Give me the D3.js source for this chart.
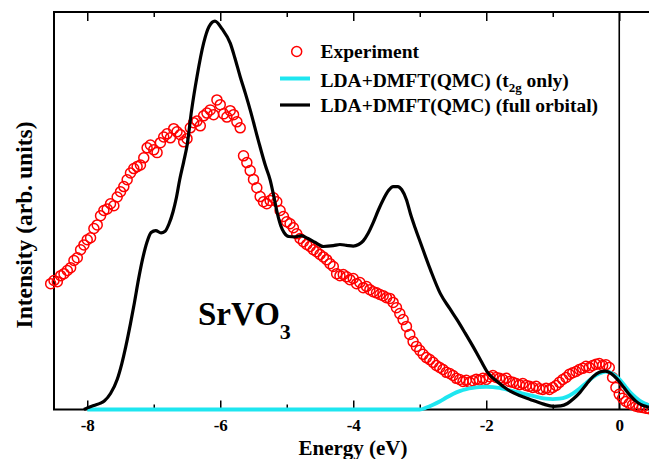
<!DOCTYPE html>
<html><head><meta charset="utf-8">
<script src="https://cdn.jsdelivr.net/npm/d3@7/dist/d3.min.js"></script>
<style>body{margin:0;background:#fff}svg{display:block}
text{font-family:"Liberation Serif","Tinos","Times New Roman","Times","Nimbus Roman","Nimbus Roman No9 L","DejaVu Serif","Noto Serif",serif}</style>
</head><body><svg id="c" width="649" height="459"></svg>
<script>
// ---- data ----
const majorTicks = [-8, -6, -4, -2, 0];
const minorTicks = [-7, -5, -3, -1];
const tickLabels = ["-8", "-6", "-4", "-2", "0"];
const legendLabels = ["Experiment", "LDA+DMFT(QMC) (t", "LDA+DMFT(QMC) (full orbital)"];

const fullOrbital = [[-8.05,0],[-8.0,0.4],[-7.9,1.0],[-7.8,1.6],[-7.74,2.2],[-7.65,4.0],[-7.55,7.5],[-7.48,11.5],[-7.42,15.8],[-7.35,21.5],[-7.29,26.8],[-7.23,32.5],[-7.17,37.5],[-7.10,42.0],[-7.04,44.3],[-6.97,44.8],[-6.89,44.2],[-6.83,44.6],[-6.77,46.5],[-6.71,49.5],[-6.66,53],[-6.61,57.5],[-6.55,62],[-6.50,66],[-6.43,75],[-6.35,83.3],[-6.25,91.7],[-6.17,95.8],[-6.08,97.2],[-5.97,95.2],[-5.85,91.7],[-5.78,88],[-5.70,83.3],[-5.62,79],[-5.55,75],[-5.43,67.5],[-5.32,61],[-5.25,57.5],[-5.19,53],[-5.14,49],[-5.09,46],[-5.04,44.3],[-4.97,43.3],[-4.88,43.2],[-4.78,43.5],[-4.68,42.8],[-4.57,41.8],[-4.45,40.8],[-4.30,41.0],[-4.20,41.3],[-4.10,41.1],[-4.00,40.9],[-3.92,41.3],[-3.85,42.2],[-3.78,44],[-3.70,46.8],[-3.62,50],[-3.55,52.5],[-3.47,54.8],[-3.40,55.8],[-3.33,55.8],[-3.27,55],[-3.20,52.5],[-3.14,49],[-3.07,45.5],[-2.99,41.8],[-2.84,35],[-2.69,29],[-2.55,25.3],[-2.44,22.5],[-2.32,19.2],[-2.20,15.8],[-2.08,12.2],[-1.98,9.3],[-1.85,7.2],[-1.68,5],[-1.50,3.5],[-1.34,2.5],[-1.15,1.4],[-0.99,0.8],[-0.88,0.9],[-0.78,1.5],[-0.68,2.8],[-0.59,4.3],[-0.49,6.4],[-0.39,8.3],[-0.30,9.3],[-0.21,9.6],[-0.12,9.0],[-0.03,7.6],[0.07,5.5],[0.17,3.4],[0.25,2.1],[0.32,1.3],[0.42,0.7],[0.5,0.4]];

const t2gOnly = [[-8.0,0],[-3.5,0],[-3.0,0],[-2.9,0.5],[-2.8,1.2],[-2.7,2.0],[-2.6,3.0],[-2.5,3.9],[-2.4,4.6],[-2.3,5.1],[-2.2,5.4],[-2.1,5.6],[-2.0,5.7],[-1.9,5.6],[-1.8,5.4],[-1.7,5.0],[-1.6,4.6],[-1.5,4.2],[-1.4,3.8],[-1.3,3.4],[-1.2,3.0],[-1.1,2.7],[-1.0,2.6],[-0.9,2.7],[-0.8,3.1],[-0.7,4.0],[-0.6,5.2],[-0.5,6.6],[-0.4,8.0],[-0.3,9.0],[-0.2,9.5],[-0.1,9.0],[0.0,7.6],[0.1,5.6],[0.2,3.7],[0.3,2.3],[0.4,1.4],[0.5,0.8]];

const experiment = [[-8.55,31.5],[-8.50,32.3],[-8.45,32.0],[-8.40,33.5],[-8.35,34.0],[-8.30,34.8],[-8.25,35.5],[-8.20,37.3],[-8.15,38.0],[-8.10,40.0],[-8.05,41.2],[-8.00,42.5],[-7.95,43.0],[-7.90,45.3],[-7.85,46.2],[-7.80,48.5],[-7.75,49.8],[-7.70,50.2],[-7.65,51.5],[-7.60,51.0],[-7.55,53.2],[-7.50,54.5],[-7.45,55.8],[-7.40,57.5],[-7.35,59.2],[-7.30,60.3],[-7.25,60.8],[-7.20,61.2],[-7.15,63.0],[-7.10,65.5],[-7.05,66.2],[-7.00,65.0],[-6.95,64.3],[-6.90,66.8],[-6.85,68.2],[-6.80,69.0],[-6.75,68.0],[-6.70,70.3],[-6.65,69.5],[-6.60,68.8],[-6.55,67.0],[-6.50,67.8],[-6.45,70.5],[-6.40,71.8],[-6.35,72.2],[-6.30,71.0],[-6.25,73.5],[-6.20,74.2],[-6.15,75.0],[-6.10,73.8],[-6.05,77.5],[-6.00,76.3],[-5.95,74.0],[-5.90,73.2],[-5.85,74.8],[-5.80,73.8],[-5.75,72.0],[-5.70,70.5],[-5.65,63.5],[-5.60,61.8],[-5.55,59.8],[-5.50,57.6],[-5.45,55.5],[-5.40,53.3],[-5.35,52.0],[-5.30,51.5],[-5.25,52.3],[-5.20,53.0],[-5.15,52.0],[-5.10,49.8],[-5.05,48.3],[-5.00,47.0],[-4.95,46.5],[-4.90,45.5],[-4.85,44.0],[-4.80,42.8],[-4.75,42.0],[-4.70,41.3],[-4.65,40.8],[-4.60,40.0],[-4.55,39.5],[-4.50,38.8],[-4.45,38.2],[-4.40,37.5],[-4.35,36.5],[-4.30,35.8],[-4.25,34.0],[-4.20,33.5],[-4.15,33.8],[-4.10,33.2],[-4.05,32.5],[-4.00,32.8],[-3.95,31.5],[-3.90,31.8],[-3.85,30.5],[-3.80,30.8],[-3.75,30.0],[-3.70,29.5],[-3.65,29.2],[-3.60,28.8],[-3.55,28.5],[-3.50,28.0],[-3.45,27.8],[-3.40,26.8],[-3.35,25.5],[-3.30,24.0],[-3.25,22.5],[-3.20,20.8],[-3.15,18.8],[-3.10,17.0],[-3.05,15.8],[-3.00,14.8],[-2.95,13.8],[-2.90,13.0],[-2.85,12.5],[-2.80,11.8],[-2.75,11.0],[-2.70,10.5],[-2.65,10.0],[-2.60,9.3],[-2.55,9.0],[-2.50,8.5],[-2.45,7.8],[-2.40,7.5],[-2.35,7.0],[-2.30,7.3],[-2.25,6.8],[-2.20,7.2],[-2.15,7.6],[-2.10,7.4],[-2.05,7.8],[-2.00,7.5],[-1.95,8.2],[-1.90,8.5],[-1.85,8.0],[-1.80,7.8],[-1.75,7.5],[-1.70,7.8],[-1.65,7.0],[-1.60,6.8],[-1.55,6.5],[-1.50,6.2],[-1.45,6.5],[-1.40,6.0],[-1.35,5.8],[-1.30,5.5],[-1.25,5.8],[-1.20,5.2],[-1.15,5.0],[-1.10,5.3],[-1.05,5.0],[-1.00,5.5],[-0.95,6.0],[-0.90,6.8],[-0.85,7.5],[-0.80,8.0],[-0.75,8.8],[-0.70,9.2],[-0.65,9.5],[-0.60,10.0],[-0.55,10.3],[-0.50,10.8],[-0.45,10.5],[-0.40,11.0],[-0.35,11.3],[-0.30,11.5],[-0.25,11.0],[-0.20,11.2],[-0.15,10.5],[-0.10,8.0],[-0.05,5.5],[0.00,3.8],[0.05,2.8],[0.10,2.0],[0.15,1.5],[0.20,1.2],[0.25,0.8],[0.30,0.6],[0.35,0.5],[0.40,0.3],[0.45,0.2]];

// ---- layout ----
const FONT = '"Liberation Serif","Tinos","Times New Roman","Times","Nimbus Roman","DejaVu Serif",serif';
const svg = d3.select("#c");
const L = 54, T = 12, B = 409.5;
const x = d3.scaleLinear().domain([-8.5, 0.5]).range([L, L + 598.5]);
const y = d3.scaleLinear().domain([0, 99.5]).range([B, T]);

// frame
svg.append("rect").attr("x", L).attr("y", T).attr("width", x(0.5) - L).attr("height", B - T)
  .attr("fill", "none").attr("stroke", "#000").attr("stroke-width", 2);

// ticks bottom and top (inward)
const bAx = d3.axisBottom(x).tickValues(majorTicks).tickSize(-9).tickFormat((d,i)=>tickLabels[i]).tickPadding(9);
const gb = svg.append("g").attr("transform", `translate(0,${B})`).call(bAx)
  .attr("font-family", FONT).attr("font-size", 17).attr("font-weight", "bold");
gb.select(".domain").remove();
gb.selectAll("line").attr("stroke-width", 1.5);
gb.selectAll("text").attr("fill", "#000");
const bMin = d3.axisBottom(x).tickValues(minorTicks).tickSize(-5).tickFormat("");
const gbm = svg.append("g").attr("transform", `translate(0,${B})`).call(bMin);
gbm.select(".domain").remove(); gbm.selectAll("line").attr("stroke-width", 1.5);
const tAx = d3.axisTop(x).tickValues(majorTicks).tickSize(-9).tickFormat("");
const gt = svg.append("g").attr("transform", `translate(0,${T})`).call(tAx);
gt.select(".domain").remove(); gt.selectAll("line").attr("stroke-width", 1.5);
const tMin = d3.axisTop(x).tickValues(minorTicks).tickSize(-5).tickFormat("");
const gtm = svg.append("g").attr("transform", `translate(0,${T})`).call(tMin);
gtm.select(".domain").remove(); gtm.selectAll("line").attr("stroke-width", 1.5);

// zero line
svg.append("line").attr("x1", x(0)).attr("x2", x(0)).attr("y1", T).attr("y2", B)
  .attr("stroke", "#000").attr("stroke-width", 1.6);

// experiment circles
svg.append("g").selectAll("circle").data(experiment).join("circle")
  .attr("cx", d => x(d[0])).attr("cy", d => y(d[1])).attr("r", 5)
  .attr("fill", "none").attr("stroke", "#ff0000").attr("stroke-width", 1.5);

const line = d3.line().x(d => x(d[0])).y(d => y(d[1])).curve(d3.curveMonotoneX);
svg.append("path").attr("d", line(t2gOnly)).attr("fill", "none").attr("stroke", "#1ee6f0").attr("stroke-width", 3.8);
svg.append("path").attr("d", line(fullOrbital)).attr("fill", "none").attr("stroke", "#000").attr("stroke-width", 3.2);

// axis labels
svg.append("text").attr("x", 353).attr("y", 455).attr("text-anchor", "middle").attr("font-family", FONT)
  .attr("font-size", 21).attr("font-weight", "bold").text("Energy (eV)");
svg.append("text").attr("transform", "translate(32,225) rotate(-90)").attr("text-anchor", "middle").attr("font-family", FONT)
  .attr("font-size", 23.5).attr("font-weight", "bold").text("Intensity (arb. units)");

// SrVO3 label
const sr = svg.append("text").attr("x", 198).attr("y", 325).attr("font-size", 33).attr("font-weight", "bold").attr("font-family", FONT);
sr.append("tspan").text("SrVO");
sr.append("tspan").attr("font-size", 22).attr("dy", 14).text("3");

// legend
const lg = svg.append("g").attr("font-family", FONT);
lg.append("circle").attr("cx", 296.7).attr("cy", 51.5).attr("r", 5).attr("fill", "none").attr("stroke", "#ff0000").attr("stroke-width", 1.5);
lg.append("text").attr("x", 320.5).attr("y", 57.5).attr("font-size", 19.5).attr("font-weight", "bold").text(legendLabels[0]);
lg.append("line").attr("x1", 280).attr("x2", 310).attr("y1", 78.5).attr("y2", 78.5).attr("stroke", "#1ee6f0").attr("stroke-width", 4);
const t2 = lg.append("text").attr("x", 320.5).attr("y", 86.5).attr("font-size", 19.5).attr("font-weight", "bold");
t2.append("tspan").text(legendLabels[1]);
t2.append("tspan").attr("font-size", 13).attr("dy", 5).text("2g");
t2.append("tspan").attr("dy", -5).text(" only)");
lg.append("line").attr("x1", 280).attr("x2", 310).attr("y1", 105).attr("y2", 105).attr("stroke", "#000").attr("stroke-width", 3.2);
lg.append("text").attr("x", 320.5).attr("y", 111.5).attr("font-size", 19.5).attr("font-weight", "bold").text(legendLabels[2]);
</script></body></html>
